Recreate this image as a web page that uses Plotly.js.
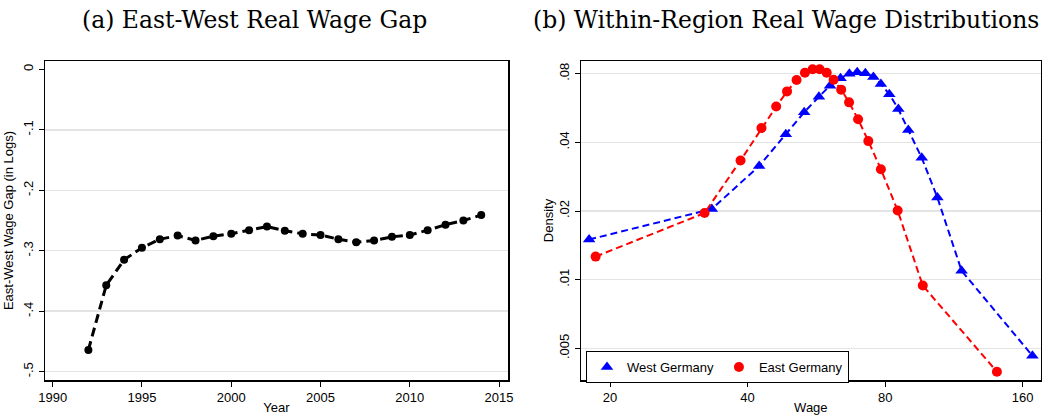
<!DOCTYPE html>
<html>
<head>
<meta charset="utf-8">
<script src="https://cdn.plot.ly/plotly-3.0.1.min.js"></script>
<style>
html,body{margin:0;padding:0;background:#fff;}
#chart{width:1047px;height:415px;}
</style>
</head>
<body>
<div id="chart"></div>
<script>
// ---- Panel (a): East-West real wage gap ----
const years = [1992,1993,1994,1995,1996,1997,1998,1999,2000,2001,2002,2003,2004,2005,2006,2007,2008,2009,2010,2011,2012,2013,2014];
const wageGap = [-0.464,-0.357,-0.315,-0.295,-0.281,-0.275,-0.283,-0.276,-0.272,-0.266,-0.260,-0.267,-0.272,-0.274,-0.281,-0.286,-0.283,-0.277,-0.274,-0.266,-0.257,-0.250,-0.241];
const gapTickVals = [0,-0.1,-0.2,-0.3,-0.4,-0.5];
const gapTickText = ["0","-.1","-.2","-.3","-.4","-.5"];
const gapGridVals = [-0.1,-0.2,-0.3,-0.4,-0.5];
const yearTickVals = [1990,1995,2000,2005,2010,2015];

// ---- Panel (b): within-region wage distributions ----
const westWage = [18.0,33.4,42.4,48.5,53.2,57.3,60.6,63.9,66.8,69.5,72.4,75.4,78.3,81.7,85.5,89.9,96.2,104.1,117.6,168];
const westDensity = [0.0150,0.0204,0.0315,0.0434,0.0542,0.0634,0.0709,0.0763,0.0800,0.0811,0.0803,0.0774,0.0721,0.0650,0.0560,0.0453,0.0342,0.0229,0.01094,0.00464];
const eastWage = [18.6,32.2,38.6,42.9,46.2,48.8,51.2,53.4,55.5,57.5,59.6,61.7,64.1,66.7,69.8,73.5,78.3,85.2,96.7,140.5];
const eastDensity = [0.01262,0.0196,0.0333,0.0462,0.0574,0.0669,0.0750,0.0808,0.0836,0.0836,0.0808,0.0753,0.0681,0.0599,0.0505,0.0405,0.0305,0.0201,0.00942,0.00395];
const wageTickVals = [20,40,80,160];
const wageTickText = ["20","40","80","160"];
const densTickVals = [0.005,0.01,0.02,0.04,0.08];
const densTickText = [".005",".01",".02",".04",".08"];
const seriesNames = ["West Germany","East Germany"];
const panelTitles = ["(a) East-West Real Wage Gap","(b) Within-Region Real Wage Distributions"];

const W = 1047, H = 415;
const px = v => v / W;
const py = v => (H - v) / H;

const tickFont = {family: "Liberation Sans, Arial, sans-serif", size: 13, color: "#000"};
const titleFont = {family: "Liberation Sans, Arial, sans-serif", size: 13, color: "#000"};
const serifFont = {family: "DejaVu Serif, serif", size: 23.5, color: "#000"};
const gridCol = "#e4e4e4";

const traces = [
  {x: years, y: wageGap, xaxis: "x", yaxis: "y", mode: "lines+markers", showlegend: false,
   line: {color: "#000", width: 3, dash: "9px,5px"}, marker: {color: "#000", size: 8, symbol: "circle"}},
  {x: westWage, y: westDensity, xaxis: "x2", yaxis: "y2", mode: "lines+markers", showlegend: false, name: seriesNames[0],
   line: {color: "#0000ff", width: 2, dash: "7px,4px"}, marker: {color: "#0000ff", size: 11, symbol: "triangle-up"}},
  {x: eastWage, y: eastDensity, xaxis: "x2", yaxis: "y2", mode: "lines+markers", showlegend: false, name: seriesNames[1],
   line: {color: "#ff0000", width: 2, dash: "7px,4px"}, marker: {color: "#ff0000", size: 10, symbol: "circle"}},
  // legend entries (markers only, as in the reference legend)
  {x: [null], y: [null], xaxis: "x2", yaxis: "y2", mode: "markers", name: seriesNames[0],
   marker: {color: "#0000ff", size: 11, symbol: "triangle-up"}},
  {x: [null], y: [null], xaxis: "x2", yaxis: "y2", mode: "markers", name: seriesNames[1],
   marker: {color: "#ff0000", size: 10, symbol: "circle"}},
  // empty trace binding the grid-only overlay axis of panel (a)
  {x: [null], y: [null], xaxis: "x", yaxis: "y3", mode: "markers", showlegend: false, hoverinfo: "skip"}
];

const axisCommon = {
  showline: true, linecolor: "#000", linewidth: 1.5, mirror: true,
  ticks: "outside", ticklen: 5, tickcolor: "#000", tickwidth: 1,
  tickfont: tickFont, zeroline: false, automargin: false
};

const layout = {
  width: W, height: H,
  margin: {l: 0, r: 0, t: 0, b: 0},
  paper_bgcolor: "#fff", plot_bgcolor: "#fff",
  showlegend: true,
  legend: {
    orientation: "h", x: px(586), y: py(351), xanchor: "left", yanchor: "top",
    bordercolor: "#000", borderwidth: 1, bgcolor: "#fff",
    font: {family: "Liberation Sans, Arial, sans-serif", size: 13, color: "#000"},
    itemwidth: 30, tracegroupgap: 0
  },
  xaxis: Object.assign({}, axisCommon, {
    domain: [px(45), px(508)], range: [1989.57, 2015.5],
    tickvals: yearTickVals, showgrid: false, anchor: "y",
    title: {text: "Year", font: titleFont, standoff: 0}
  }),
  yaxis: Object.assign({}, axisCommon, {
    domain: [py(380), py(61)], range: [-0.5137, 0.0137],
    tickvals: gapTickVals, ticktext: gapTickText, tickangle: -90,
    showgrid: false, anchor: "x",
    title: {text: "East-West Wage Gap (in Logs)", font: titleFont, standoff: 4}
  }),
  yaxis3: {
    overlaying: "y", anchor: "x", range: [-0.5137, 0.0137],
    tickvals: gapGridVals, showticklabels: false, ticks: "",
    showgrid: true, gridcolor: gridCol, gridwidth: 1.5, zeroline: false, showline: false
  },
  xaxis2: Object.assign({}, axisCommon, {
    domain: [px(581), px(1040.7)], type: "log", range: [1.2375, 2.2435],
    tickvals: wageTickVals, ticktext: wageTickText, showgrid: false, anchor: "y2",
    title: {text: "Wage", font: titleFont, standoff: 0}
  }),
  yaxis2: Object.assign({}, axisCommon, {
    domain: [py(380), py(61)], type: "log", range: [-2.4399, -1.0413],
    tickvals: densTickVals, ticktext: densTickText, tickangle: -90,
    showgrid: true, gridcolor: gridCol, gridwidth: 1.5, anchor: "x2",
    title: {text: "Density", font: titleFont, standoff: 0}
  }),
  annotations: [
    {text: panelTitles[0], xref: "paper", yref: "paper", x: px(254), y: py(20), xanchor: "center", yanchor: "middle",
     showarrow: false, font: serifFont},
    {text: panelTitles[1], xref: "paper", yref: "paper", x: px(786), y: py(20), xanchor: "center", yanchor: "middle",
     showarrow: false, font: serifFont}
  ]
};

Plotly.newPlot("chart", traces, layout, {displayModeBar: false, staticPlot: true});
</script>
</body>
</html>
